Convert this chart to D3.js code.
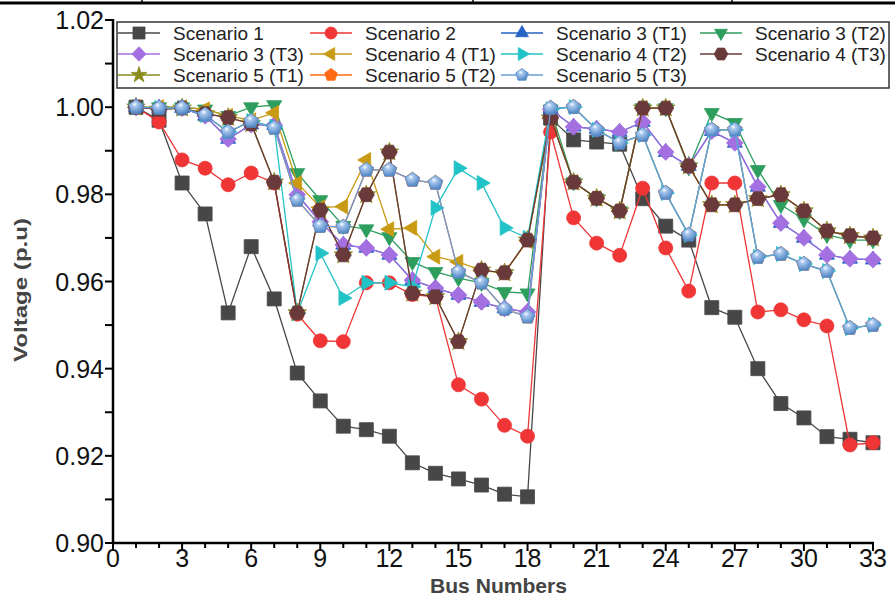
<!DOCTYPE html>
<html>
<head>
<meta charset="utf-8">
<script src="https://cdn.jsdelivr.net/npm/d3@7"></script>
<style>
  body { margin: 0; background: #fff; }
  svg { display: block; font-family: "Liberation Sans", Arial, sans-serif; }
  .narrow { font-family: "Liberation Sans Narrow", "Arial Narrow", "Liberation Sans", sans-serif; }
</style>
</head>
<body>
<div id="chart"></div>
<script>
// bus numbers 1..33
const buses = [1,2,3,4,5,6,7,8,9,10,11,12,13,14,15,16,17,18,19,20,21,22,23,24,25,26,27,28,29,30,31,32,33];

const xTicks = [0,3,6,9,12,15,18,21,24,27,30,33];
const yTicks = [0.90,0.92,0.94,0.96,0.98,1.00,1.02];

const scenario1 = [1.000,0.997,0.9826,0.9755,0.9528,0.968,0.956,0.939,0.9326,0.9268,0.926,0.9245,0.9184,0.916,0.9147,0.9133,0.9112,0.9106,0.9975,0.9925,0.992,0.9915,0.979,0.9727,0.9695,0.954,0.9518,0.940,0.932,0.9287,0.9244,0.9238,0.923];
const scenario2 = [1.000,0.9966,0.9879,0.986,0.9822,0.9849,0.9826,0.9525,0.9464,0.9462,0.9597,0.9597,0.957,0.9565,0.9363,0.933,0.927,0.9245,0.9943,0.9746,0.9688,0.966,0.9814,0.9677,0.9578,0.9826,0.9826,0.953,0.9535,0.9512,0.9498,0.9225,0.923];
const scenario3T1 = [1.000,0.9998,0.9998,0.998,0.9927,0.996,0.9959,0.9799,0.9737,0.9684,0.9677,0.9661,0.9603,0.9585,0.9569,0.9553,0.9538,0.953,0.9995,0.9955,0.995,0.9943,0.9966,0.9897,0.9865,0.9945,0.9918,0.9817,0.9734,0.970,0.9661,0.9652,0.965];
const scenario3T2 = [1.000,1.000,1.000,0.9995,0.998,1.000,1.0005,0.9849,0.9787,0.9728,0.972,0.9702,0.9645,0.9622,0.9608,0.9597,0.9576,0.9573,0.9995,0.9828,0.9791,0.9762,0.9998,0.9998,0.9862,0.9987,0.9964,0.9856,0.9776,0.9743,0.9707,0.9695,0.9695];
const scenario3T3 = [1.000,0.9998,0.9998,0.998,0.9927,0.996,0.9959,0.9799,0.9737,0.9684,0.9677,0.9661,0.9603,0.9585,0.9569,0.9553,0.9538,0.953,0.9995,0.9955,0.995,0.9943,0.9966,0.9897,0.9865,0.9945,0.9918,0.9817,0.9734,0.970,0.9661,0.9652,0.965];
const scenario4T1 = [1.000,1.000,1.000,0.9995,0.998,0.997,0.9987,0.9826,0.977,0.9772,0.9879,0.972,0.9723,0.9657,0.9645,0.9625,0.962,0.9693,0.9975,0.9828,0.9791,0.9762,0.9998,0.9998,0.9865,0.9776,0.9776,0.979,0.9799,0.9762,0.9716,0.9705,0.970];
const scenario4T2 = [1.000,0.9998,0.9998,0.9982,0.9943,0.9968,0.9955,0.9527,0.9665,0.9562,0.9597,0.9597,0.9588,0.9769,0.986,0.9826,0.9723,0.970,0.9995,1.000,0.9948,0.9918,0.9936,0.9803,0.9707,0.9948,0.9948,0.9656,0.9663,0.964,0.9624,0.9493,0.950];
const scenario4T3 = [1.000,0.9995,0.9998,0.9985,0.9976,0.9962,0.9828,0.9528,0.9764,0.9661,0.9799,0.9897,0.9573,0.9565,0.9462,0.9626,0.962,0.9695,0.9975,0.9828,0.9791,0.9762,0.9998,0.9998,0.9865,0.9776,0.9776,0.979,0.9799,0.9762,0.9716,0.9705,0.970];
const scenario5T1 = [1.000,0.9995,0.9998,0.9985,0.9976,0.9962,0.9828,0.9528,0.9764,0.9661,0.9799,0.9897,0.9573,0.9565,0.9462,0.9626,0.962,0.9695,0.9975,0.9828,0.9791,0.9762,0.9998,0.9998,0.9865,0.9776,0.9776,0.979,0.9799,0.9762,0.9716,0.9705,0.970];
const scenario5T2 = [1.000,0.9998,0.9998,0.9982,0.9943,0.9968,0.9952,0.9787,0.9727,0.9725,0.9856,0.9856,0.9833,0.9826,0.9622,0.9597,0.9537,0.9519,0.9998,1.000,0.9948,0.9918,0.9936,0.9803,0.9707,0.9948,0.9948,0.9656,0.9663,0.964,0.9624,0.9493,0.950];
const scenario5T3 = [1.000,0.9998,0.9998,0.9982,0.9943,0.9968,0.9952,0.9787,0.9727,0.9725,0.9856,0.9856,0.9833,0.9826,0.9622,0.9597,0.9537,0.9519,0.9998,1.000,0.9948,0.9918,0.9936,0.9803,0.9707,0.9948,0.9948,0.9656,0.9663,0.964,0.9624,0.9493,0.950];

const seriesNames = ['Scenario 1','Scenario 2','Scenario 3 (T1)','Scenario 3 (T2)','Scenario 3 (T3)','Scenario 4 (T1)','Scenario 4 (T2)','Scenario 4 (T3)','Scenario 5 (T1)','Scenario 5 (T2)','Scenario 5 (T3)'];
const seriesValues = [scenario1, scenario2, scenario3T1, scenario3T2, scenario3T3, scenario4T1, scenario4T2, scenario4T3, scenario5T1, scenario5T2, scenario5T3];
const colors = ['#474747','#ef3535','#2563c4','#2e9e5e','#a46fe0','#c99a14','#22c3c6','#6a3a3a','#8b8b1e','#ff6a12','#6b9ed6'];
const shapes = ['square','circle','triUp','triDown','diamond','triLeft','triRight','hexagon','star','pentagon','sphere'];
// bottom to top
const drawOrder = [8,9,0,1,2,3,4,5,6,7,10];

const W = 895, H = 598;
const svg = d3.select('#chart').append('svg')
    .attr('width', W)
    .attr('height', H);

const defs = svg.append('defs');
const grad = defs.append('radialGradient').attr('id', 'sphere')
    .attr('cx', '40%').attr('cy', '35%').attr('r', '65%');
grad.append('stop').attr('offset', '0%').attr('stop-color', '#ffffff');
grad.append('stop').attr('offset', '25%').attr('stop-color', '#a9c8ee');
grad.append('stop').attr('offset', '100%').attr('stop-color', '#4f86c6');

// top strip (cut-off table)
svg.append('line').attr('x1', 0).attr('x2', W).attr('y1', 3).attr('y2', 3)
    .attr('stroke', '#000').attr('stroke-width', 3);
[142, 473, 732].forEach(function(x) {
    svg.append('line').attr('x1', x).attr('x2', x).attr('y1', 0).attr('y2', 3)
        .attr('stroke', '#000').attr('stroke-width', 1.5);
});

var x = d3.scaleLinear().domain([0, 33]).range([113, 873]);
var y = d3.scaleLinear().domain([0.90, 1.02]).range([543, 20]);

function polygon(n, r, rot) {
    var pts = [];
    for (var i = 0; i < n; i++) {
        var a = rot + i * 2 * Math.PI / n;
        pts.push([r * Math.cos(a), r * Math.sin(a)]);
    }
    return 'M' + pts.map(p => p[0].toFixed(2) + ',' + p[1].toFixed(2)).join('L') + 'Z';
}

function shapePath(shape, s) {
    // s = rough marker diameter
    switch (shape) {
        case 'square': return d3.symbol(d3.symbolSquare, s * s)();
        case 'circle': return d3.symbol(d3.symbolCircle, Math.PI * s * s / 4)();
        case 'triUp': return polygon(3, s * 0.62, -Math.PI / 2);
        case 'triDown': return polygon(3, s * 0.62, Math.PI / 2);
        case 'triLeft': return polygon(3, s * 0.62, Math.PI);
        case 'triRight': return polygon(3, s * 0.62, 0);
        case 'diamond': return polygon(4, s * 0.6, -Math.PI / 2);
        case 'hexagon': return polygon(6, s * 0.57, 0);
        case 'star': return d3.symbol(d3.symbolStar, s * s * 0.55)();
        case 'pentagon': return polygon(5, s * 0.55, -Math.PI / 2);
        case 'sphere': return polygon(5, s * 0.55, -Math.PI / 2);
    }
}

function markerFill(i) {
    return shapes[i] === 'sphere' ? 'url(#sphere)' : colors[i];
}

var line = d3.line()
    .x((d, i) => x(buses[i]))
    .y(d => y(d));

var plot = svg.append('g');

drawOrder.forEach(function(si) {
    var g = plot.append('g');
    g.append('path')
        .datum(seriesValues[si])
        .attr('d', line)
        .attr('fill', 'none')
        .attr('stroke', colors[si])
        .attr('stroke-width', 1.3);
    g.selectAll('path.m')
        .data(seriesValues[si])
        .enter().append('path')
        .attr('class', 'm')
        .attr('d', shapePath(shapes[si], 14))
        .attr('transform', (d, i) => 'translate(' + x(buses[i]) + ',' + y(d) + ')')
        .attr('fill', markerFill(si))
        .attr('stroke', shapes[si] === 'sphere' ? '#5b8fcc' : colors[si])
        .attr('stroke-width', 0.8);
});

// axes
var xAxis = svg.append('g').attr('transform', 'translate(0,543)');
xAxis.append('line').attr('x1', 112).attr('x2', 874).attr('y1', 0).attr('y2', 0)
    .attr('stroke', '#000').attr('stroke-width', 2.5);
xAxis.selectAll('line.minor')
    .data(d3.range(0, 34))
    .enter().append('line')
    .attr('x1', d => x(d)).attr('x2', d => x(d))
    .attr('y1', 0).attr('y2', d => d % 3 === 0 ? 8 : 5)
    .attr('stroke', '#000').attr('stroke-width', 2);
xAxis.selectAll('text')
    .data(xTicks)
    .enter().append('text')
    .attr('class', 'narrow')
    .attr('x', d => x(d))
    .attr('y', 24)
    .attr('text-anchor', 'middle')
    .attr('font-size', 25)
    .attr('fill', '#111')
    .text(d => d);

var yAxis = svg.append('g').attr('transform', 'translate(113,0)');
yAxis.append('line').attr('x1', 0).attr('x2', 0).attr('y1', 19).attr('y2', 544)
    .attr('stroke', '#000').attr('stroke-width', 2.5);
yAxis.selectAll('line.tick')
    .data(d3.range(0, 13).map(i => 0.90 + i * 0.01))
    .enter().append('line')
    .attr('x1', 0).attr('x2', -8)
    .attr('y1', d => y(d)).attr('y2', d => y(d))
    .attr('stroke', '#000').attr('stroke-width', 2);
yAxis.selectAll('text')
    .data(yTicks)
    .enter().append('text')
    .attr('class', 'narrow')
    .attr('x', -9)
    .attr('y', d => y(d) + 9)
    .attr('text-anchor', 'end')
    .attr('font-size', 25)
    .attr('fill', '#111')
    .text(d => d3.format('.2f')(d));

// axis titles
svg.append('text')
    .attr('class', 'narrow')
    .attr('x', 430).attr('y', 593)
    .attr('font-size', 21).attr('font-weight', 'bold')
    .attr('textLength', 137).attr('lengthAdjust', 'spacingAndGlyphs')
    .attr('fill', '#444')
    .text('Bus Numbers');
svg.append('text')
    .attr('class', 'narrow')
    .attr('transform', 'translate(27,362) rotate(-90)')
    .attr('font-size', 19).attr('font-weight', 'bold')
    .attr('textLength', 144).attr('lengthAdjust', 'spacingAndGlyphs')
    .attr('fill', '#444')
    .text('Voltage (p.u)');

// legend
var legend = svg.append('g');
legend.append('rect')
    .attr('x', 117).attr('y', 22).attr('width', 772).attr('height', 66)
    .attr('fill', '#fff').attr('stroke', '#333').attr('stroke-width', 1.5);
var colX = [118, 310, 501, 700];
var rowY = [33, 54, 75];
seriesNames.forEach(function(name, i) {
    var cx = colX[i % 4], cy = rowY[Math.floor(i / 4)];
    var g = legend.append('g');
    g.append('line').attr('x1', cx).attr('x2', cx + 42).attr('y1', cy).attr('y2', cy)
        .attr('stroke', colors[i]).attr('stroke-width', 1.3);
    g.append('path')
        .attr('d', shapePath(shapes[i], 12))
        .attr('transform', 'translate(' + (cx + 21) + ',' + cy + ')')
        .attr('fill', markerFill(i))
        .attr('stroke', shapes[i] === 'sphere' ? '#5b8fcc' : colors[i])
        .attr('stroke-width', 0.8);
    g.append('text')
        .attr('x', cx + 55).attr('y', cy + 7)
        .attr('font-size', 19)
        .attr('fill', '#222')
        .text(name);
});
</script>
</body>
</html>
